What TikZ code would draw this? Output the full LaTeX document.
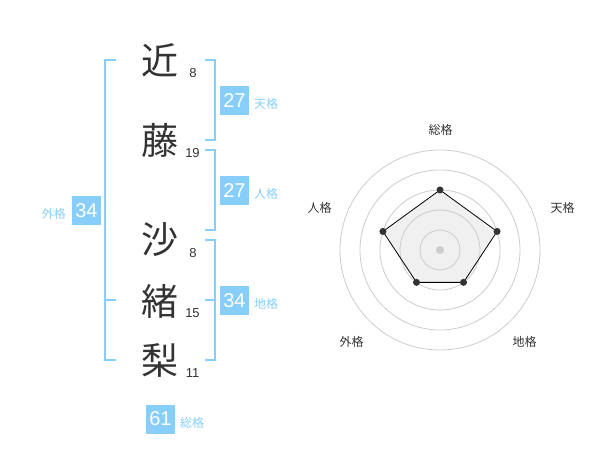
\documentclass[tikz,border=0pt]{standalone}
\usepackage{fontspec}
\setmainfont{Liberation Sans}
\newfontfamily\cjk{Noto Sans CJK JP}
\usetikzlibrary{calc}
\definecolor{sky}{HTML}{87CEFA}
\definecolor{ink}{HTML}{333333}
\definecolor{ring}{HTML}{CCCCCC}
\definecolor{polyfill}{HTML}{F0F0F0}
\tikzset{
  kanji/.style={font=\cjk\fontsize{37}{37}\selectfont, text=ink, inner sep=0pt},
  strokes/.style={font=\fontsize{13}{13}\selectfont, text=ink, inner sep=0pt},
  scorebox/.style={fill=sky, text=white, minimum width=29pt, minimum height=29pt, inner sep=0pt, font=\fontsize{20}{20}\selectfont},
  scorelabel/.style={font=\cjk\fontsize{12}{12}\selectfont, text=sky, inner sep=0pt},
  bracket/.style={draw=sky, line width=2pt},
  axislabel/.style={font=\cjk\fontsize{12}{12}\selectfont, text=ink, inner sep=0pt},
  ringline/.style={draw=ring, line width=0.8pt},
  vertex/.style={circle, fill=ink, inner sep=0pt, minimum size=7pt},
}
\begin{document}
\begin{tikzpicture}[x=1pt,y=-1pt]
\useasboundingbox (0,0) rectangle (600,470);
% kanji
\node[kanji] (k1) at (160,60.5) {近};
\node[kanji] (k2) at (160,140.5) {藤};
\node[kanji] (k3) at (160,240) {沙};
\node[kanji] (k4) at (160,301.5) {緒};
\node[kanji] (k5) at (160,360) {梨};
% stroke counts
\node[strokes] (s1) at (193,73) {8};
\node[strokes] (s2) at (192.5,153) {19};
\node[strokes] (s3) at (193,253.5) {8};
\node[strokes] (s4) at (192.5,313) {15};
\node[strokes] (s5) at (192.5,373) {11};
% brackets
\draw[bracket] (116,60) -- (105,60) -- (105,360) -- (116,360);
\draw[bracket] (105,300) -- (116,300);
\draw[bracket] (205,60) -- (215,60) -- (215,140) -- (205,140);
\draw[bracket] (205,150) -- (215,150) -- (215,230) -- (205,230);
\draw[bracket] (205,240) -- (215,240) -- (215,360) -- (205,360);
\draw[bracket] (205,300) -- (215,300);
% score boxes
\node[scorebox] (ten) at (234.5,100.5) {27};
\node[scorelabel, anchor=west] (tenl) at (254,104) {天格};
\node[scorebox] (jin) at (234.5,190.5) {27};
\node[scorelabel, anchor=west] (jinl) at (254,194) {人格};
\node[scorebox] (chi) at (234.5,300.5) {34};
\node[scorelabel, anchor=west] (chil) at (254,304) {地格};
\node[scorebox] (gai) at (86.5,210.5) {34};
\node[scorelabel, anchor=east] (gail) at (66,213.5) {外格};
\node[scorebox] (sou) at (160.5,419) {61};
\node[scorelabel, anchor=west] (soul) at (180,422.5) {総格};
% radar
\coordinate (c) at (440,250);
\begin{scope}[shift={(c)}]
  \coordinate (p1) at (90:60pt);
  \coordinate (p2) at (18:60pt);
  \coordinate (p3) at (-54:40pt);
  \coordinate (p4) at (-126:40pt);
  \coordinate (p5) at (162:60pt);
\end{scope}
\fill[polyfill] (p1) -- (p2) -- (p3) -- (p4) -- (p5) -- cycle;
\foreach \r in {20,40,60,80,100} \draw[ringline] (c) circle[radius=\r pt];
\draw[black, line width=0.8pt] (p1) -- (p2) -- (p3) -- (p4) -- (p5) -- cycle;
\node[circle, fill=ring, inner sep=0pt, minimum size=8pt] (cd) at (c) {};
\foreach \i in {1,...,5} \node[vertex] (v\i) at (p\i) {};
\node[axislabel] (a1) at (440.5,130) {総格};
\node[axislabel] (a2) at (562.5,208) {天格};
\node[axislabel] (a3) at (319.5,208) {人格};
\node[axislabel] (a4) at (351.5,342) {外格};
\node[axislabel] (a5) at (524.5,342) {地格};
\end{tikzpicture}
\end{document}
